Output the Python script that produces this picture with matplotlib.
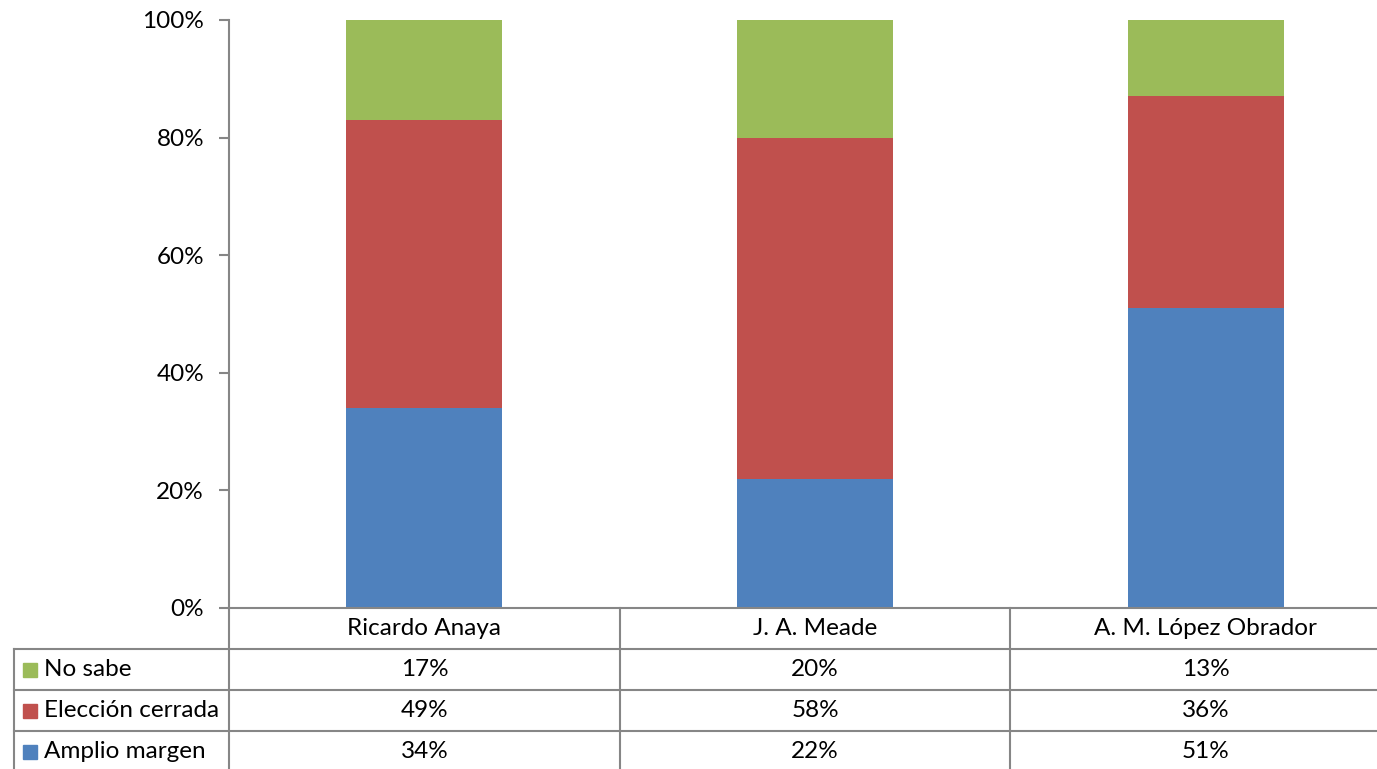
import matplotlib
matplotlib.use('Agg')
import matplotlib.pyplot as plt
import numpy as np

candidates = ['Ricardo Anaya', 'J. A. Meade', 'A. M. López Obrador']
series_names = ['No sabe', 'Elección cerrada', 'Amplio margen']
amplio_margen = [34, 22, 51]
eleccion_cerrada = [49, 58, 36]
no_sabe = [17, 20, 13]
colors = {'Amplio margen': '#4F81BD', 'Elección cerrada': '#C0504D', 'No sabe': '#9BBB59'}
y_ticks = [0, 20, 40, 60, 80, 100]

W, H = 1377, 769
fig = plt.figure(figsize=(W / 100, H / 100), dpi=100)
plt.rcParams['font.family'] = ['Lato', 'DejaVu Sans']
fs = 17.5
grey = '#868686'

# plot area (right edge sits outside the picture, as in the original crop)
left_px, right_px, top_px, bottom_px = 229, 1401, 20, 608
ax = fig.add_axes([left_px / W, 1 - bottom_px / H, (right_px - left_px) / W, (bottom_px - top_px) / H])
ax.set_xlim(0.5, 3.5)
ax.set_ylim(0, 100)

x = np.arange(1, len(candidates) + 1)
values = {'Amplio margen': amplio_margen, 'Elección cerrada': eleccion_cerrada, 'No sabe': no_sabe}
bottom = np.zeros(len(candidates))
for name in ['Amplio margen', 'Elección cerrada', 'No sabe']:
    v = np.array(values[name], dtype=float)
    ax.bar(x, v, width=0.4, bottom=bottom, color=colors[name], zorder=2)
    bottom += v

for s in ['top', 'right', 'bottom']:
    ax.spines[s].set_visible(False)
ax.spines['left'].set_color(grey)
ax.spines['left'].set_linewidth(1.5)
ax.set_xticks([])
ax.set_yticks(y_ticks)
ax.set_yticklabels([f'{t}%' for t in y_ticks], fontsize=fs)
ax.tick_params(axis='y', direction='out', length=7, width=1.5, color=grey, pad=11)

# data table below the axes, in pixel units converted to figure fractions
def fx(px):
    return px / W

def fy(py):
    return 1 - py / H

row_lines = [608, 649, 690, 731, 772]
col_lines = [229, 620, 1010, 1401]
table_left = 14
lw = 1.5

fig.add_artist(plt.Line2D([fx(229), fx(1401)], [fy(608), fy(608)], color=grey, lw=lw))
for r in row_lines[1:4]:
    fig.add_artist(plt.Line2D([fx(table_left), fx(1401)], [fy(r), fy(r)], color=grey, lw=lw))
for c in col_lines:
    fig.add_artist(plt.Line2D([fx(c), fx(c)], [fy(608), fy(772)], color=grey, lw=lw))
fig.add_artist(plt.Line2D([fx(table_left), fx(table_left)], [fy(649), fy(772)], color=grey, lw=lw))

# header row: candidate names
for i, cand in enumerate(candidates):
    cx = (col_lines[i] + col_lines[i + 1]) / 2
    fig.text(fx(cx), fy((row_lines[0] + row_lines[1]) / 2), cand, ha='center', va='center', fontsize=fs)

# series rows
for j, name in enumerate(series_names):
    cy = (row_lines[j + 1] + row_lines[j + 2]) / 2
    fig.add_artist(plt.Rectangle((fx(23), fy(cy + 7)), 14 / W, 14 / H, color=colors[name]))
    fig.text(fx(44), fy(cy), name, ha='left', va='center', fontsize=fs)
    for i in range(len(candidates)):
        cx = (col_lines[i] + col_lines[i + 1]) / 2
        fig.text(fx(cx), fy(cy), f'{values[name][i]}%', ha='center', va='center', fontsize=fs)

fig.savefig('out.png', dpi=100)
